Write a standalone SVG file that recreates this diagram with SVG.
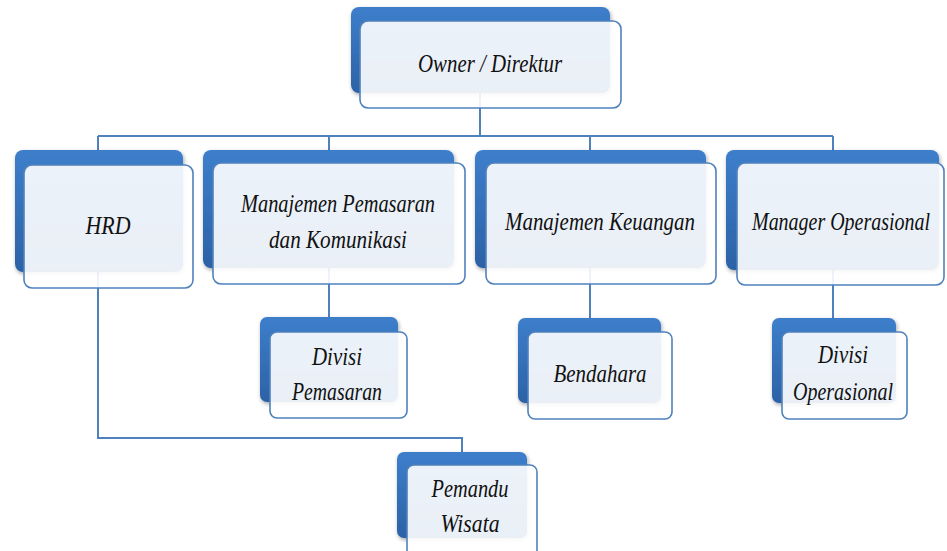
<svg xmlns="http://www.w3.org/2000/svg" width="947" height="551" viewBox="0 0 947 551">
<defs>
<linearGradient id="blue" x1="0" y1="0" x2="0" y2="1">
<stop offset="0" stop-color="#3D7ECB"/>
<stop offset="1" stop-color="#2C62A6"/>
</linearGradient>
<filter id="sh" x="-10%" y="-10%" width="125%" height="130%">
<feGaussianBlur in="SourceAlpha" stdDeviation="2"/>
<feOffset dx="1" dy="2"/>
<feComponentTransfer><feFuncA type="linear" slope="0.35"/></feComponentTransfer>
<feMerge><feMergeNode/><feMergeNode in="SourceGraphic"/></feMerge>
</filter>
</defs>
<style>
.back{fill:url(#blue);filter:url(#sh)}
.front{fill:#ffffff;fill-opacity:0.9;stroke:#4F81BD;stroke-width:1.6}
.lbl{font-family:"Liberation Serif","DejaVu Serif",serif;font-style:italic;font-size:25px;fill:#111111;text-anchor:middle}
.conn{fill:none;stroke:#4F81BD;stroke-width:2}
</style>
<rect width="947" height="551" fill="#ffffff"/>
<g id="connectors">
<path class="conn" d="M480,60 V136"/>
<path class="conn" d="M98,136 H833"/>
<path class="conn" d="M98,136 V438 H462 V452"/>
<path class="conn" d="M329,136 V317"/>
<path class="conn" d="M590,136 V318"/>
<path class="conn" d="M833,136 V318"/>
</g>
<g id="owner">
<rect class="back" x="351" y="7" width="259" height="86" rx="8"/>
<rect class="front" x="360" y="21" width="261" height="87" rx="8"/>
<text class="lbl" x="490" y="72" textLength="144" lengthAdjust="spacingAndGlyphs">Owner / Direktur</text>
</g>
<g id="hrd">
<rect class="back" x="15" y="150" width="168" height="122" rx="8"/>
<rect class="front" x="24" y="165" width="169" height="123" rx="8"/>
<text class="lbl" x="108" y="234" textLength="45" lengthAdjust="spacingAndGlyphs">HRD</text>
</g>
<g id="manajemen-pemasaran">
<rect class="back" x="203" y="150" width="251" height="118" rx="8"/>
<rect class="front" x="213" y="163" width="252" height="121" rx="8"/>
<text class="lbl" x="338" y="212" textLength="194" lengthAdjust="spacingAndGlyphs">Manajemen Pemasaran</text>
<text class="lbl" x="338" y="248" textLength="138" lengthAdjust="spacingAndGlyphs">dan Komunikasi</text>
</g>
<g id="manajemen-keuangan">
<rect class="back" x="475" y="150" width="231" height="118" rx="8"/>
<rect class="front" x="486" y="163" width="230" height="121" rx="8"/>
<text class="lbl" x="600" y="230" textLength="190" lengthAdjust="spacingAndGlyphs">Manajemen Keuangan</text>
</g>
<g id="manager-operasional">
<rect class="back" x="726" y="150" width="213" height="120" rx="8"/>
<rect class="front" x="737" y="163" width="207" height="122" rx="8"/>
<text class="lbl" x="841" y="230" font-size="22" textLength="178" lengthAdjust="spacingAndGlyphs">Manager Operasional</text>
</g>
<g id="divisi-pemasaran">
<rect class="back" x="260" y="317" width="138" height="85" rx="7"/>
<rect class="front" x="270" y="332" width="137" height="86" rx="7"/>
<text class="lbl" x="337" y="365" textLength="50" lengthAdjust="spacingAndGlyphs">Divisi</text>
<text class="lbl" x="337" y="400" textLength="90" lengthAdjust="spacingAndGlyphs">Pemasaran</text>
</g>
<g id="bendahara">
<rect class="back" x="518" y="318" width="143" height="85" rx="7"/>
<rect class="front" x="528" y="332" width="144" height="87" rx="7"/>
<text class="lbl" x="600" y="382" textLength="93" lengthAdjust="spacingAndGlyphs">Bendahara</text>
</g>
<g id="divisi-operasional">
<rect class="back" x="772" y="318" width="124" height="85" rx="7"/>
<rect class="front" x="782" y="332" width="125" height="87" rx="7"/>
<text class="lbl" x="843" y="363" textLength="50" lengthAdjust="spacingAndGlyphs">Divisi</text>
<text class="lbl" x="843" y="400" textLength="100" lengthAdjust="spacingAndGlyphs">Operasional</text>
</g>
<g id="pemandu-wisata">
<rect class="back" x="397" y="452" width="130" height="86" rx="7"/>
<rect class="front" x="407" y="465" width="130" height="95" rx="7"/>
<text class="lbl" x="470" y="497" textLength="77" lengthAdjust="spacingAndGlyphs">Pemandu</text>
<text class="lbl" x="470" y="532" textLength="59" lengthAdjust="spacingAndGlyphs">Wisata</text>
</g>
</svg>
